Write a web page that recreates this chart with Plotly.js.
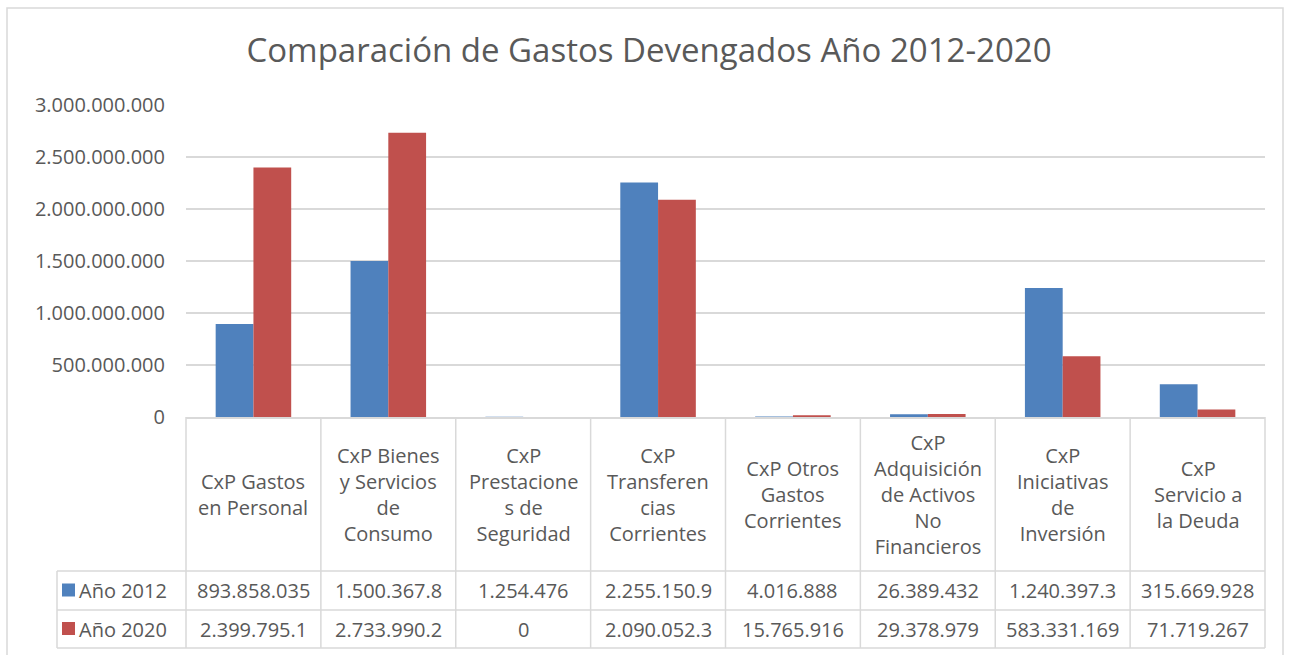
<!DOCTYPE html>
<html>
<head>
<meta charset="utf-8">
<script src="https://cdn.plot.ly/plotly-3.0.1.min.js"></script>
<style>
  body { margin: 0; background: #fff; }
  #chart { width: 1298px; height: 655px; }
</style>
</head>
<body>
<div id="chart"></div>
<script>
// categories (with the line breaks used in the data table header)
var categories = [
  "CxP Gastos<br>en Personal",
  "CxP Bienes<br>y Servicios<br>de<br>Consumo",
  "CxP<br>Prestacione<br>s de<br>Seguridad",
  "CxP<br>Transferen<br>cias<br>Corrientes",
  "CxP Otros<br>Gastos<br>Corrientes",
  "CxP<br>Adquisición<br>de Activos<br>No<br>Financieros",
  "CxP<br>Iniciativas<br>de<br>Inversión",
  "CxP<br>Servicio a<br>la Deuda"
];
var seriesNames = ["Año 2012", "Año 2020"];
var seriesColors = ["#4F81BD", "#C0504D"];

var gastos2012 = [893858035, 1500367800, 1254476, 2255150900, 4016888, 26389432, 1240397300, 315669928];
var gastos2020 = [2399795100, 2733990200, 0, 2090052300, 15765916, 29378979, 583331169, 71719267];
var allSeries = [gastos2012, gastos2020];

var W = 1298, H = 655;
var marginL = 186, marginR = 33, marginT = 105, marginB = 238;
var plotW = W - marginL - marginR, plotH = H - marginT - marginB;
var gridColor = "#D9D9D9";
var textColor = "#595959";
var fontFam = "Open Sans, Noto Sans, sans-serif";
var fs = 20;

// pixel -> paper helpers for the table drawn under the axis
function px(X) { return (X - marginL) / plotW; }
function py(Y) { return (H - marginB - Y) / plotH; }

// number formatting like the Excel table (dots, clipped to the cell)
function fmt(v) {
  var s = String(Math.round(v)).replace(/\B(?=(\d{3})+(?!\d))/g, ".");
  return s.slice(0, 11);
}

var traces = allSeries.map(function (vals, k) {
  return {
    x: categories,
    y: vals,
    type: "bar",
    name: seriesNames[k],
    marker: { color: seriesColors[k] },
    hoverinfo: "y+name"
  };
});

var shapes = [];
var annotations = [];
var n = categories.length;

var rowTop = 417, headBot = 571, row1Bot = 610, row2Bot = 648, legLeft = 57;

// outer chart border
shapes.push({ type: "rect", xref: "paper", yref: "paper",
  x0: px(7), x1: px(1283), y0: py(8), y1: py(700),
  line: { color: gridColor, width: 1.5 }, fillcolor: "rgba(0,0,0,0)", layer: "below" });

// table vertical lines
for (var i = 0; i <= n; i++) {
  shapes.push({ type: "line", xref: "paper", yref: "paper",
    x0: i / n, x1: i / n, y0: py(rowTop), y1: py(row2Bot),
    line: { color: gridColor, width: 1.5 } });
}
shapes.push({ type: "line", xref: "paper", yref: "paper",
  x0: px(legLeft), x1: px(legLeft), y0: py(headBot), y1: py(row2Bot),
  line: { color: gridColor, width: 1.5 } });
// table horizontal lines
[headBot, row1Bot, row2Bot].forEach(function (Y) {
  shapes.push({ type: "line", xref: "paper", yref: "paper",
    x0: px(legLeft), x1: 1, y0: py(Y), y1: py(Y),
    line: { color: gridColor, width: 1.5 } });
});

// header labels
categories.forEach(function (c) {
  annotations.push({ x: c, xref: "x", y: py((rowTop + headBot) / 2), yref: "paper",
    text: c, showarrow: false, xanchor: "center", yanchor: "middle",
    font: { family: fontFam, size: fs, color: textColor } });
});

// value rows + legend keys
var rowCenters = [(headBot + row1Bot) / 2, (row1Bot + row2Bot) / 2];
allSeries.forEach(function (vals, k) {
  var yc = rowCenters[k];
  vals.forEach(function (v, j) {
    annotations.push({ x: categories[j], xref: "x", y: py(yc), yref: "paper",
      text: fmt(v), showarrow: false, xanchor: "center", yanchor: "middle",
      font: { family: fontFam, size: fs, color: textColor } });
  });
  shapes.push({ type: "rect", xref: "paper", yref: "paper",
    x0: px(62), x1: px(75), y0: py(yc - 7), y1: py(yc + 6),
    fillcolor: seriesColors[k], line: { width: 0 } });
  annotations.push({ x: px(77), xref: "paper", y: py(yc), yref: "paper",
    text: seriesNames[k], showarrow: false, xanchor: "left", yanchor: "middle",
    font: { family: fontFam, size: fs, color: textColor } });
});

var layout = {
  width: W,
  height: H,
  margin: { l: marginL, r: marginR, t: marginT, b: marginB },
  paper_bgcolor: "#fff",
  plot_bgcolor: "#fff",
  separators: ",.",
  showlegend: false,
  barmode: "group",
  bargap: 0.44,
  bargroupgap: 0,
  title: {
    text: "Comparación de Gastos Devengados Año 2012-2020",
    x: 0.5, xref: "container", xanchor: "center",
    y: 1 - 50 / H, yanchor: "middle",
    font: { family: fontFam, size: 33, color: textColor }
  },
  xaxis: {
    showticklabels: false,
    showgrid: false,
    showline: true,
    linecolor: gridColor,
    linewidth: 1.5,
    ticks: ""
  },
  yaxis: {
    range: [0, 3000000000],
    dtick: 500000000,
    tickformat: ",",
    showgrid: true,
    gridcolor: gridColor,
    gridwidth: 1.5,
    zeroline: false,
    showline: false,
    ticklabelstandoff: 20,
    tickfont: { family: fontFam, size: fs, color: textColor }
  },
  shapes: shapes,
  annotations: annotations,
  font: { family: fontFam, color: textColor }
};

Plotly.newPlot("chart", traces, layout, { displayModeBar: false, staticPlot: true });
</script>
</body>
</html>
